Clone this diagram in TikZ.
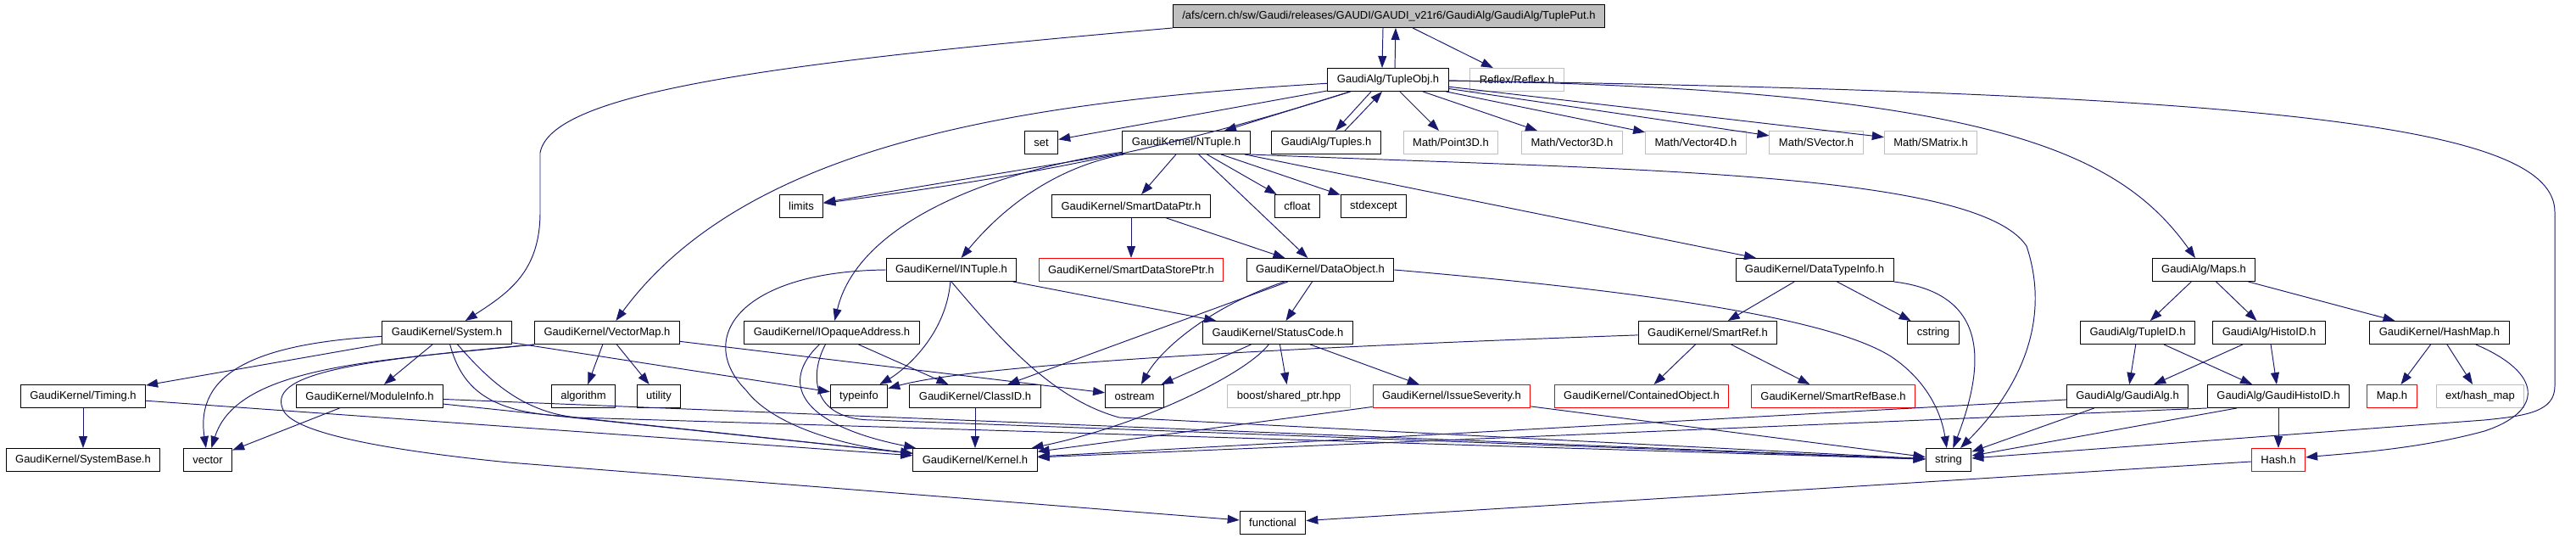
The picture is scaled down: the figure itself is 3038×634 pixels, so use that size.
\documentclass[tikz,border=0pt]{standalone}
\usepackage{fontspec}
\setmainfont{Liberation Sans}
\usepackage{xcolor}
\usepackage{tikz}
\usetikzlibrary{arrows.meta}
\definecolor{edgeblue}{HTML}{191970}
\definecolor{lightgray}{HTML}{BFBFBF}

\begin{document}
\begin{tikzpicture}[
        x=0.02cm, y=-0.02cm,
        box/.style={rectangle, draw, line width=0.55pt, minimum height=0.54cm, inner xsep=0.22cm, inner ysep=0pt, text centered, font=\fontsize{7.4}{9}\selectfont},
        missing/.style={box, draw=red},
        external/.style={box, draw=lightgray},
        arrow/.style={-{Triangle[length=0.28cm, width=0.2cm]}, draw=edgeblue, line width=0.55pt}
    ]
    \useasboundingbox (0,0) rectangle (3038,634);

    % Main file
    \node[box, fill=lightgray] (root) at (1638, 19) {/afs/cern.ch/sw/Gaudi/releases/GAUDI/GAUDI\_v21r6/GaudiAlg/GaudiAlg/TuplePut.h};

    % First level
    \node[box] (tupleobj) at (1637, 94) {GaudiAlg/TupleObj.h};
    \node[external] (reflex) at (1789, 94) {Reflex/Reflex.h};

    % Second level
    \node[box] (set) at (1228, 168) {set};
    \node[box] (ntuple) at (1399, 168) {GaudiKernel/NTuple.h};
    \node[box] (tuples) at (1564, 168) {GaudiAlg/Tuples.h};
    \node[external] (point3d) at (1711, 168) {Math/Point3D.h};
    \node[external] (vec3d) at (1854, 168) {Math/Vector3D.h};
    \node[external] (vec4d) at (2000, 168) {Math/Vector4D.h};
    \node[external] (svector) at (2142, 168) {Math/SVector.h};
    \node[external] (smatrix) at (2277, 168) {Math/SMatrix.h};

    % Third level
    \node[box] (limits) at (945, 243) {limits};
    \node[box] (smartdataptr) at (1334, 243) {GaudiKernel/SmartDataPtr.h};
    \node[box] (cfloat) at (1530, 243) {cfloat};
    \node[box] (stdexcept) at (1620, 243) {stdexcept};

    % Fourth level
    \node[box] (intuple) at (1122, 318) {GaudiKernel/INTuple.h};
    \node[missing] (smartstoreptr) at (1334, 318) {GaudiKernel/SmartDataStorePtr.h};
    \node[box] (dataobject) at (1557, 318) {GaudiKernel/DataObject.h};
    \node[box] (datatypeinfo) at (2140, 318) {GaudiKernel/DataTypeInfo.h};
    \node[box] (maps) at (2599, 318) {GaudiAlg/Maps.h};

    % Fifth level
    \node[box] (system) at (527, 392) {GaudiKernel/System.h};
    \node[box] (vectormap) at (716, 392) {GaudiKernel/VectorMap.h};
    \node[box] (opaqueaddr) at (981, 392) {GaudiKernel/IOpaqueAddress.h};
    \node[box] (statuscode) at (1507, 392) {GaudiKernel/StatusCode.h};
    \node[box] (smartref) at (2014, 392) {GaudiKernel/SmartRef.h};
    \node[box] (cstring) at (2280, 392) {cstring};
    \node[box] (tupleid) at (2521, 392) {GaudiAlg/TupleID.h};
    \node[box] (histoid) at (2676, 392) {GaudiAlg/HistoID.h};
    \node[box] (hashmap) at (2877, 392) {GaudiKernel/HashMap.h};

    % Sixth level
    \node[box] (timing) at (98, 467) {GaudiKernel/Timing.h};
    \node[box] (moduleinfo) at (436, 467) {GaudiKernel/ModuleInfo.h};
    \node[box] (algorithm) at (688, 467) {algorithm};
    \node[box] (utility) at (777, 467) {utility};
    \node[box] (typeinfo) at (1013, 467) {typeinfo};
    \node[box] (classid) at (1150, 467) {GaudiKernel/ClassID.h};
    \node[box] (ostream) at (1338, 467) {ostream};
    \node[external] (sharedptr) at (1520, 467) {boost/shared\_ptr.hpp};
    \node[missing] (severity) at (1712, 467) {GaudiKernel/IssueSeverity.h};
    \node[missing] (contained) at (1936, 467) {GaudiKernel/ContainedObject.h};
    \node[missing] (smartrefbase) at (2162, 467) {GaudiKernel/SmartRefBase.h};
    \node[box] (gaudialg) at (2509, 467) {GaudiAlg/GaudiAlg.h};
    \node[box] (gaudihistoid) at (2687, 467) {GaudiAlg/GaudiHistoID.h};
    \node[missing] (maph) at (2821, 467) {Map.h};
    \node[external] (hashmapext) at (2925, 467) {ext/hash\_map};

    % Seventh level
    \node[box] (systembase) at (98, 542) {GaudiKernel/SystemBase.h};
    \node[box] (vector) at (245, 542) {vector};
    \node[box] (kernel) at (1150, 542) {GaudiKernel/Kernel.h};
    \node[box] (string) at (2298, 542) {string};
    \node[missing] (hash) at (2687, 542) {Hash.h};

    % Last level
    \node[box] (functional) at (1501, 616) {functional};

    % Arrows from the main file
    \draw[arrow] ([xshift=-0.14cm]root.south) -- ([xshift=-0.14cm]tupleobj.north);
    \draw[arrow] ([xshift=0.16cm]tupleobj.north) -- ([xshift=0.16cm]root.south);
    \draw[arrow] (root) -- (reflex);
    \draw[arrow] (root.south west) .. controls (900,75) and (650,110) .. (637,180) -- (637,250) .. controls (637,320) and (600,345) .. (system);

    % Arrows from TupleObj
    \draw[arrow] (tupleobj) -- (set);
    \draw[arrow] (tupleobj) .. controls (1380,175) and (1230,205) .. (limits);
    \draw[arrow] (tupleobj) -- (ntuple);
    \draw[arrow] ([xshift=-0.4cm]tupleobj.south) -- ([xshift=0.22cm]tuples.north);
    \draw[arrow] ([xshift=0.44cm]tuples.north) -- ([xshift=-0.14cm]tupleobj.south);
    \draw[arrow] (tupleobj) -- (point3d);
    \draw[arrow] (tupleobj) -- (vec3d);
    \draw[arrow] (tupleobj) -- (vec4d);
    \draw[arrow] (tupleobj) -- (svector);
    \draw[arrow] (tupleobj) -- (smatrix);
    \draw[arrow] (tupleobj) .. controls (1200,120) and (880,170) .. (vectormap);
    \draw[arrow] (tupleobj) .. controls (2350,105) and (2500,180) .. (maps);
    \draw[arrow] (tupleobj) .. controls (2700,110) and (3013,150) .. (3013,250) -- (3013,455) .. controls (3013,485) and (2980,490) .. (2930,495) -- (string);

    % Arrows from NTuple
    \draw[arrow] (ntuple) -- (limits);
    \draw[arrow] (ntuple) -- (smartdataptr);
    \draw[arrow] (ntuple) .. controls (1230,200) and (1170,260) .. (intuple);
    \draw[arrow] (ntuple) .. controls (1150,205) and (1010,270) .. (opaqueaddr);
    \draw[arrow] (ntuple) -- (dataobject);
    \draw[arrow] (ntuple) -- (cfloat);
    \draw[arrow] (ntuple) -- (stdexcept);
    \draw[arrow] (ntuple) -- (datatypeinfo);
    \draw[arrow] (ntuple.south east) .. controls (1900,200) and (2330,200) .. (2390,290) .. controls (2420,380) and (2380,460) .. (string);

    % Arrows from the fourth level
    \draw[arrow] (smartdataptr) -- (smartstoreptr);
    \draw[arrow] (smartdataptr) -- (dataobject);
    \draw[arrow] (intuple) .. controls (1115,400) and (1060,440) .. (typeinfo);
    \draw[arrow] (intuple) -- (statuscode);
    \draw[arrow] (intuple.south) .. controls (1180,400) and (1240,470) .. (1320,492) -- (string);
    \draw[arrow] (intuple.west) .. controls (870,320) and (820,400) .. (880,460) .. controls (910,500) and (990,525) .. (kernel);
    \draw[arrow] (dataobject) -- (classid);
    \draw[arrow] (dataobject) .. controls (1430,360) and (1370,410) .. (ostream);
    \draw[arrow] (dataobject) -- (statuscode);
    \draw[arrow] (dataobject.east) .. controls (1900,340) and (2150,370) .. (2230,420) .. controls (2275,450) and (2290,490) .. (string);
    \draw[arrow] (datatypeinfo) -- (smartref);
    \draw[arrow] (datatypeinfo) -- (cstring);
    \draw[arrow] (datatypeinfo.south east) .. controls (2340,345) and (2345,420) .. (string);
    \draw[arrow] (maps) -- (tupleid);
    \draw[arrow] (maps) -- (histoid);
    \draw[arrow] (maps) -- (hashmap);

    % Arrows from the fifth level
    \draw[arrow] (system) -- (timing);
    \draw[arrow] (system) -- (moduleinfo);
    \draw[arrow] (system) .. controls (300,405) and (230,440) .. (vector);
    \draw[arrow] (system) -- (typeinfo);
    \draw[arrow] (system) .. controls (545,460) and (580,485) .. (660,490) -- (kernel);
    \draw[arrow] (system) .. controls (570,440) and (610,485) .. (680,492) -- (string);
    \draw[arrow] (vectormap) -- (algorithm);
    \draw[arrow] (vectormap) -- (utility);
    \draw[arrow] (vectormap.south west) .. controls (450,425) and (280,430) .. (vector);
    \draw[arrow] (vectormap.south west) .. controls (420,425) and (310,440) .. (335,485) .. controls (350,510) and (450,530) .. (600,545) -- (functional);
    \draw[arrow] (vectormap) -- (ostream);
    \draw[arrow] (opaqueaddr) -- (classid);
    \draw[arrow] (opaqueaddr) .. controls (920,450) and (940,500) .. (kernel);
    \draw[arrow] (opaqueaddr) .. controls (955,440) and (955,495) .. (1030,495) -- (string);
    \draw[arrow] (statuscode) -- (ostream);
    \draw[arrow] (statuscode) .. controls (1470,440) and (1350,500) .. (kernel);
    \draw[arrow] (statuscode) -- (sharedptr);
    \draw[arrow] (statuscode) -- (severity);
    \draw[arrow] (smartref) .. controls (1500,410) and (1150,430) .. (typeinfo);
    \draw[arrow] (smartref) -- (contained);
    \draw[arrow] (smartref) -- (smartrefbase);
    \draw[arrow] (tupleid) -- (gaudialg);
    \draw[arrow] (tupleid) -- (gaudihistoid);
    \draw[arrow] (histoid) -- (gaudialg);
    \draw[arrow] (histoid) -- (gaudihistoid);
    \draw[arrow] (hashmap) -- (maph);
    \draw[arrow] (hashmap) -- (hashmapext);
    \draw[arrow] ([xshift=-0.8cm]hashmap.south east) .. controls (3000,440) and (3000,485) .. (2930,508) .. controls (2850,530) and (2760,535) .. (hash);

    % Arrows from the sixth level
    \draw[arrow] (timing) -- (systembase);
    \draw[arrow] (timing) -- (kernel);
    \draw[arrow] (moduleinfo) -- (vector);
    \draw[arrow] (moduleinfo) -- (kernel);
    \draw[arrow] (moduleinfo) -- (string);
    \draw[arrow] (classid) -- (kernel);
    \draw[arrow] (severity) -- (kernel);
    \draw[arrow] (severity) -- (string);
    \draw[arrow] (gaudialg) -- (kernel);
    \draw[arrow] (gaudialg) -- (string);
    \draw[arrow] (gaudihistoid.south west) -- (kernel);
    \draw[arrow] ([xshift=0.7cm]gaudihistoid.south west) -- (string);
    \draw[arrow] (gaudihistoid) -- (hash);
    \draw[arrow] (hash) -- (functional);

    \end{tikzpicture}
\end{document}
